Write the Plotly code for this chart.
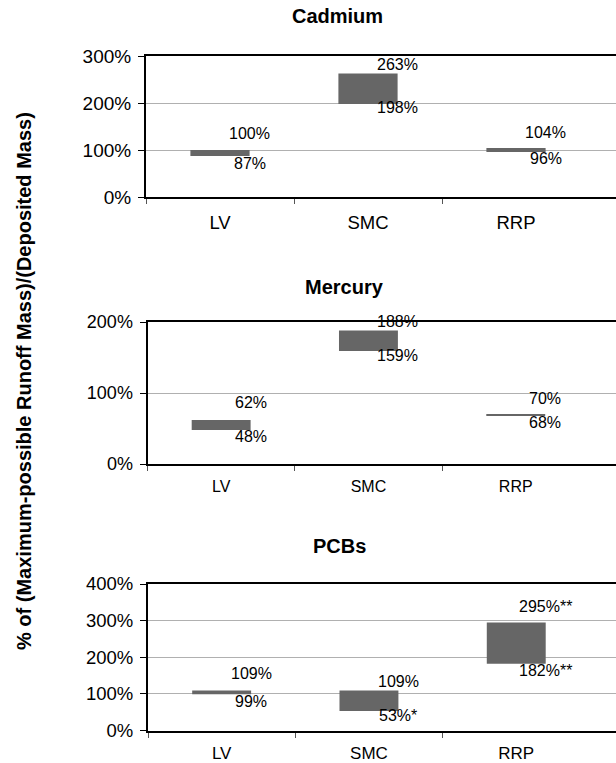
import plotly.graph_objects as go

W, H = 616, 763

# ---------------- data ----------------
categories = ["LV", "SMC", "RRP"]

cadmium_low = [87, 198, 96]
cadmium_high = [100, 263, 104]

mercury_low = [48, 159, 68]
mercury_high = [62, 188, 70]

pcb_low = [99, 53, 182]
pcb_high = [109, 109, 295]
pcb_low_notes = ["", "*", "**"]
pcb_high_notes = ["", "", "**"]

cadmium_ticks = [0, 100, 200, 300]
mercury_ticks = [0, 100, 200]
pcb_ticks = [0, 100, 200, 300, 400]

y_title = "% of (Maximum-possible Runoff Mass)/(Deposited Mass)"

# ---------------- style / layout constants ----------------
FONT = "Arial, Liberation Sans, Helvetica, sans-serif"
BAR_COLOR = "#666666"
GRID_COLOR = "#b0b0b0"
HIGH_SHIFT = [17, 9, 16]   # px above the high value, per category
LOW_SHIFT = [7, 4, 7]      # px below the low value, per category

panels = [
    dict(title="Cadmium", low=cadmium_low, high=cadmium_high,
         low_notes=["", "", ""], high_notes=["", "", ""], ticks=cadmium_ticks,
         left=146, top=56, bottom=197, spacing=148,
         yfont=19, xfont=18.5, tx=337, ty=16, xstand=8),
    dict(title="Mercury", low=mercury_low, high=mercury_high,
         low_notes=["", "", ""], high_notes=["", "", ""], ticks=mercury_ticks,
         left=147.5, top=322, bottom=464, spacing=147.3,
         yfont=18, xfont=16, tx=344, ty=287, xstand=7),
    dict(title="PCBs", low=pcb_low, high=pcb_high,
         low_notes=pcb_low_notes, high_notes=pcb_high_notes, ticks=pcb_ticks,
         left=148, top=584, bottom=730.5, spacing=147.3,
         yfont=18.5, xfont=17, tx=339, ty=546, xstand=6),
]

fig = go.Figure()
annotations = []
xs = list(range(len(categories)))

for k, p in enumerate(panels):
    sfx = "" if k == 0 else str(k + 1)
    xa, ya = "x" + sfx, "y" + sfx
    heights = [h - l for h, l in zip(p["high"], p["low"])]
    fig.add_trace(go.Bar(
        x=xs, y=heights, base=p["low"], width=0.4,
        marker=dict(color=BAR_COLOR, line=dict(width=0)),
        xaxis=xa, yaxis=ya, showlegend=False, hoverinfo="skip",
    ))
    xmax = -0.5 + (W - p["left"]) / p["spacing"]
    fig.update_layout(**{
        "xaxis" + sfx: dict(
            domain=[p["left"] / W, 1.0], range=[-0.5, xmax], anchor=ya,
            automargin=False,
            tickmode="array", tickvals=xs, ticktext=categories, ticks="",
            showline=True, linecolor="black", linewidth=2, mirror=True,
            showgrid=False, zeroline=False,
            tickfont=dict(family=FONT, size=p["xfont"], color="black"),
            ticklabelstandoff=p["xstand"],
            minor=dict(tickmode="array", tickvals=[i - 0.5 for i in xs],
                       ticks="outside", ticklen=5, tickcolor="#555",
                       tickwidth=1, showgrid=False),
        ),
        "yaxis" + sfx: dict(
            domain=[1 - p["bottom"] / H, 1 - p["top"] / H],
            range=[0, p["ticks"][-1]], anchor=xa, automargin=False,
            tickmode="array", tickvals=p["ticks"],
            ticktext=[f"{t}%" for t in p["ticks"]],
            ticks="outside", ticklen=6, tickcolor="black", tickwidth=1,
            showline=True, linecolor="black", linewidth=2, mirror=False,
            showgrid=True, gridcolor=GRID_COLOR, gridwidth=1, zeroline=False,
            tickfont=dict(family=FONT, size=p["yfont"], color="black"),
            ticklabelstandoff=3,
        ),
    })
    for i in xs:
        annotations.append(dict(
            x=i + 0.2, y=p["high"][i], xref=xa, yref=ya,
            text=f"{p['high'][i]}%{p['high_notes'][i]}", showarrow=False,
            xanchor="center", yanchor="middle", yshift=HIGH_SHIFT[i],
            font=dict(family=FONT, size=16, color="black"),
        ))
        annotations.append(dict(
            x=i + 0.2, y=p["low"][i], xref=xa, yref=ya,
            text=f"{p['low'][i]}%{p['low_notes'][i]}", showarrow=False,
            xanchor="center", yanchor="middle", yshift=-LOW_SHIFT[i],
            font=dict(family=FONT, size=16, color="black"),
        ))
    annotations.append(dict(
        x=p["tx"] / W, y=1 - p["ty"] / H, xref="paper", yref="paper",
        text=f"<b>{p['title']}</b>", showarrow=False,
        xanchor="center", yanchor="middle",
        font=dict(family=FONT, size=20, color="black"),
    ))

annotations.append(dict(
    x=24 / W, y=1 - 381 / H, xref="paper", yref="paper",
    text=f"<b>{y_title}</b>", showarrow=False, textangle=-90,
    xanchor="center", yanchor="middle",
    font=dict(family=FONT, size=20, color="black"),
))

fig.update_layout(
    width=W, height=H,
    margin=dict(l=0, r=0, t=0, b=0, pad=0, autoexpand=False),
    paper_bgcolor="white", plot_bgcolor="white",
    annotations=annotations, barmode="overlay",
)

fig.write_html("out.html")
